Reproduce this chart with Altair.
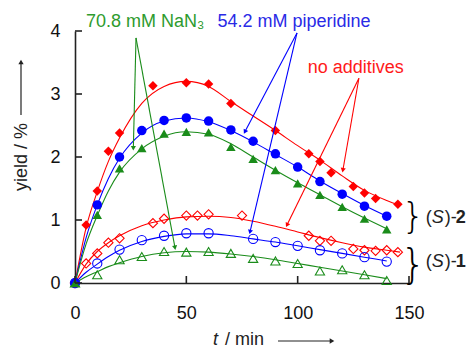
import math
import altair as alt
import pandas as pd

# ---------------- data ----------------
# (S)-2, filled markers
t_s2_none = [0, 5, 10, 15, 20, 35, 50, 60, 70, 90, 105, 110, 115, 125, 130, 135, 145]
y_s2_none = [0, 0.92, 1.46, 2.09, 2.38, 3.13, 3.18, 3.16, 2.85, 2.42, 2.05, 1.93, 1.75, 1.53, 1.43, 1.34, 1.25]
t_s2_pip = [0, 10, 20, 30, 40, 50, 60, 70, 80, 90, 100, 110, 120, 130, 140]
y_s2_pip = [0, 1.24, 2.00, 2.42, 2.58, 2.62, 2.57, 2.43, 2.25, 2.05, 1.84, 1.61, 1.41, 1.22, 1.06]
t_s2_az = [0, 10, 20, 30, 40, 50, 60, 70, 80, 90, 100, 110, 120, 130, 140]
y_s2_az = [0, 1.08, 1.82, 2.14, 2.37, 2.40, 2.39, 2.16, 1.97, 1.79, 1.58, 1.40, 1.21, 1.02, 0.85]
# (S)-1, open markers
t_s1_none = [0, 5, 10, 15, 20, 35, 40, 50, 55, 60, 75, 105, 110, 115, 125, 130, 135, 140, 145]
y_s1_none = [0, 0.31, 0.47, 0.64, 0.71, 0.95, 1.02, 1.07, 1.07, 1.09, 1.07, 0.75, 0.67, 0.67, 0.54, 0.52, 0.51, 0.52, 0.49]
t_s1_pip = [0, 10, 20, 30, 40, 50, 60, 80, 90, 100, 110, 120, 130, 140]
y_s1_pip = [0, 0.31, 0.53, 0.68, 0.75, 0.79, 0.79, 0.70, 0.65, 0.59, 0.52, 0.47, 0.41, 0.34]
t_s1_az = [0, 10, 20, 30, 40, 50, 60, 70, 80, 90, 100, 110, 120, 130, 140]
y_s1_az = [0, 0.13, 0.37, 0.42, 0.50, 0.49, 0.50, 0.47, 0.39, 0.35, 0.31, 0.19, 0.21, 0.13, 0.04]

# fitted curves
fit_t = [0, 5, 10, 15, 20, 30, 40, 50, 60, 70, 80, 90, 100, 110, 120, 130, 140]
fit_t_long = fit_t + [146]
fit_s2_none = [0, 0.88, 1.45, 1.93, 2.30, 2.85, 3.12, 3.20, 3.12, 2.88, 2.65, 2.42, 2.18, 1.95, 1.70, 1.47, 1.31, 1.23]
fit_s2_pip = [0, 0.72, 1.24, 1.66, 1.98, 2.38, 2.57, 2.62, 2.56, 2.42, 2.24, 2.04, 1.84, 1.62, 1.42, 1.23, 1.06]
fit_s2_az = [0, 0.62, 1.07, 1.46, 1.76, 2.13, 2.33, 2.40, 2.36, 2.21, 2.00, 1.79, 1.59, 1.40, 1.21, 1.03, 0.86]
fit_s1_none = [0, 0.30, 0.50, 0.64, 0.75, 0.91, 1.00, 1.05, 1.06, 1.04, 0.98, 0.90, 0.81, 0.72, 0.64, 0.57, 0.52, 0.49]
fit_s1_pip = [0, 0.17, 0.30, 0.42, 0.52, 0.66, 0.74, 0.78, 0.78, 0.75, 0.70, 0.65, 0.59, 0.53, 0.47, 0.41, 0.35]
fit_s1_az = [0, 0.10, 0.18, 0.26, 0.32, 0.42, 0.48, 0.50, 0.49, 0.46, 0.42, 0.37, 0.31, 0.25, 0.19, 0.13, 0.07]

x_ticks = [0, 50, 100, 150]
y_ticks = [0, 1, 2, 3, 4]

# annotation labels and arrows
label_text = ["70.8 mM NaN₃", "54.2 mM piperidine", "no additives"]
label_x = [4.9, 64.0, 104.5]
label_y = [4.14, 4.14, 3.41]
arrow_x1 = [27.4, 27.4, 99.7, 99.7, 127.5, 127.5]
arrow_y1 = [3.89, 3.89, 3.97, 3.97, 3.25, 3.25]
arrow_x2 = [26.2, 44.9, 76.3, 78.6, 120.3, 95.2]
arrow_y2 = [2.14, 0.56, 2.40, 0.81, 1.79, 0.92]

RED, BLUE, GREEN = "#ff0000", "#0000ff", "#1a8c1a"
label_color = ["#2e9b2e", "#2a2ae6", "#ff1a1a"]
arrow_color = [GREEN, GREEN, BLUE, BLUE, RED, RED]
FONT = "Liberation Sans"

W, H = 334, 252
XMAX, YMAX = 150, 4
xs = alt.Scale(domain=[0, XMAX], nice=False, zero=False)
ys = alt.Scale(domain=[0, YMAX], nice=False)

X = alt.X("t:Q", scale=xs, axis=alt.Axis(values=x_ticks, title=None, ticks=False, tickSize=0, format="d",
                                           labelPadding=21, labelFontSize=18, labelFont=FONT,
                                           labelColor="#111", domainColor="#222", domainWidth=1.6,
                                           grid=False, labelFlush=False))
Y = alt.Y("y:Q", scale=ys, axis=alt.Axis(values=y_ticks, title=None, ticks=False, tickSize=0, format="d",
                                           labelPadding=15, labelFontSize=18, labelFont=FONT,
                                           labelColor="#111", domainColor="#222", domainWidth=1.6,
                                           grid=False, labelFlush=False))
Xp = alt.X("t:Q", scale=xs)
Yp = alt.Y("y:Q", scale=ys)


def df(t, y):
    return pd.DataFrame({"t": t, "y": y})


layers = []

# fitted lines
for tt, yy, c in [(fit_t_long, fit_s2_none, RED), (fit_t, fit_s2_pip, BLUE), (fit_t, fit_s2_az, GREEN),
                  (fit_t_long, fit_s1_none, RED), (fit_t, fit_s1_pip, BLUE), (fit_t, fit_s1_az, GREEN)]:
    layers.append(alt.Chart(df(tt, yy)).mark_line(color=c, strokeWidth=1.1, interpolate="monotone")
                  .encode(x=X, y=Y))

# markers
for tt, yy, c, shape, filled in [
        (t_s1_none, y_s1_none, RED, "diamond", False),
        (t_s1_pip, y_s1_pip, BLUE, "circle", False),
        (t_s1_az, y_s1_az, GREEN, "triangle-up", False),
        (t_s2_none, y_s2_none, RED, "diamond", True),
        (t_s2_pip, y_s2_pip, BLUE, "circle", True),
        (t_s2_az, y_s2_az, GREEN, "triangle-up", True)]:
    if filled:
        m = alt.Chart(df(tt, yy)).mark_point(shape=shape, filled=True, color=c, size=90, opacity=1)
    else:
        m = alt.Chart(df(tt, yy)).mark_point(shape=shape, filled=False, color=c, size=85,
                                             strokeWidth=1.1, opacity=1)
    layers.append(m.encode(x=Xp, y=Yp))

# inward ticks
layers.append(alt.Chart(pd.DataFrame({"t": x_ticks})).mark_rule(color="#222", strokeWidth=1.6)
              .encode(x=Xp, y=alt.value(H), y2=alt.value(H - 7)))
layers.append(alt.Chart(pd.DataFrame({"y": y_ticks})).mark_rule(color="#222", strokeWidth=1.6)
              .encode(y=Yp, x=alt.value(0), x2=alt.value(7)))

# arrows (head angle measured clockwise from screen "up")
px_per_x = W / XMAX
px_per_y = H / YMAX
adf = pd.DataFrame({"t": arrow_x1, "y": arrow_y1, "t2": arrow_x2, "y2": arrow_y2, "c": arrow_color})
adf["ang"] = [
    math.degrees(math.atan2((x2 - x1) * px_per_x, -((y1 - y2) * px_per_y))) % 360
    for x1, y1, x2, y2 in zip(arrow_x1, arrow_y1, arrow_x2, arrow_y2)]
layers.append(alt.Chart(adf).mark_rule(strokeWidth=1.1).encode(
    x=Xp, y=Yp, x2="t2:Q", y2="y2:Q", color=alt.Color("c:N", scale=None)))
layers.append(alt.Chart(adf).mark_point(shape="triangle-up", filled=True, size=26, opacity=1).encode(
    x=alt.X("t2:Q", scale=xs), y=alt.Y("y2:Q", scale=ys), angle=alt.Angle("ang:Q", scale=None),
    color=alt.Color("c:N", scale=None)))

# annotation labels
ldf = pd.DataFrame({"t": label_x, "y": label_y, "txt": label_text, "c": label_color})
layers.append(alt.Chart(ldf).mark_text(align="left", baseline="middle", font=FONT, fontSize=18).encode(
    x=Xp, y=Yp, text="txt:N", color=alt.Color("c:N", scale=None)))

# braces and compound labels (S)-2 / (S)-1
brace_y = [1.04, 0.27]
brace_size = [36, 40]
for by, bs in zip(brace_y, brace_size):
    layers.append(alt.Chart(pd.DataFrame({"t": [151.9], "y": [by]}))
                  .mark_text(text="}", align="center", baseline="middle", font="DejaVu Sans", fontWeight=300,
                             fontSize=bs, color="#000")
                  .encode(x=Xp, y=Yp))
cmp_y = [1.03, 0.33]
cmp_num = ["2", "1"]
for cy, num in zip(cmp_y, cmp_num):
    base = pd.DataFrame({"t": [157.5], "y": [cy]})
    for txt, dx, style, weight in [("(", 0, "normal", "normal"), ("S", 6, "italic", "normal"),
                                   (")-", 19, "normal", "normal"), (num, 30, "normal", "bold")]:
        layers.append(alt.Chart(base).mark_text(text=txt, dx=dx, align="left", baseline="middle", font=FONT,
                                                fontSize=18, fontStyle=style, fontWeight=weight, color="#222")
                      .encode(x=Xp, y=Yp))

# axis titles (with arrows)
one = pd.DataFrame({"a": [0]})
layers.append(alt.Chart(one).mark_text(text="yield / %", angle=270, align="center", baseline="middle",
                                       font=FONT, fontSize=18, color="#222")
              .encode(x=alt.value(-53), y=alt.value(126)))
layers.append(alt.Chart(one).mark_rule(color="#222", strokeWidth=1.2)
              .encode(x=alt.value(-54), y=alt.value(84), y2=alt.value(33)))
layers.append(alt.Chart(one).mark_point(shape="triangle-up", filled=True, size=28, color="#222", opacity=1)
              .encode(x=alt.value(-54), y=alt.value(31)))
layers.append(alt.Chart(one).mark_text(text="t", align="left", baseline="middle", font=FONT, fontSize=18,
                                       fontStyle="italic", color="#222")
              .encode(x=alt.value(138), y=alt.value(309)))
layers.append(alt.Chart(one).mark_text(text="/ min", align="left", baseline="middle", font=FONT, fontSize=18,
                                       color="#222")
              .encode(x=alt.value(150), y=alt.value(309)))
layers.append(alt.Chart(one).mark_rule(color="#222", strokeWidth=1.2)
              .encode(x=alt.value(203), x2=alt.value(255), y=alt.value(310)))
layers.append(alt.Chart(one).mark_point(shape="triangle-right", filled=True, size=28, color="#222", opacity=1)
              .encode(x=alt.value(257), y=alt.value(310)))

chart = alt.layer(*layers).properties(
    width=W, height=H,
    autosize=alt.AutoSizeParams(type="none"),
    padding={"left": 75, "top": 31, "right": 62, "bottom": 65},
    background="white",
).configure_view(stroke=None)

chart.save("out.html", embed_options={"renderer": "svg", "actions": False})
